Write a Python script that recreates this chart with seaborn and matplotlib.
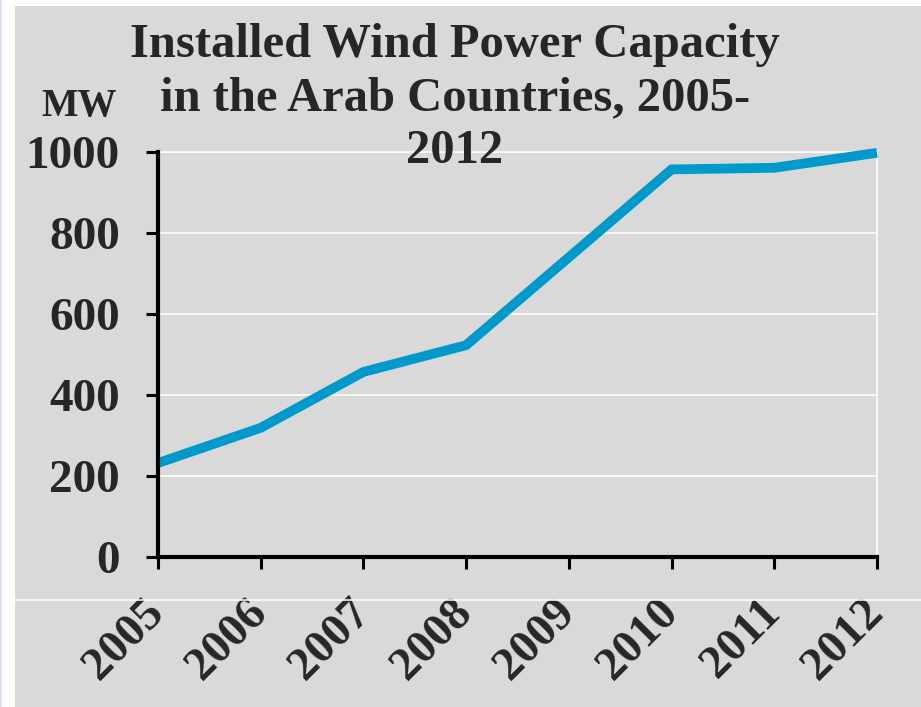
import pandas as pd
import matplotlib.pyplot as plt
import seaborn as sns
from matplotlib.lines import Line2D
from matplotlib.patches import Rectangle

# Installed wind power capacity (MW)
years = [2005, 2006, 2007, 2008, 2009, 2010, 2011, 2012]
capacity_mw = [232, 319, 457, 523, 740, 957, 961, 998]
y_ticks = [0, 200, 400, 600, 800, 1000]

title = "Installed Wind Power Capacity\nin the Arab Countries, 2005-\n2012"
unit_label = "MW"

bg = "#d9d9d9"
blue = "#0099cc"

sns.set_style("white", {"axes.facecolor": bg})
plt.rcParams["font.family"] = ["Liberation Serif", "DejaVu Serif"]
plt.rcParams["font.weight"] = "bold"

df = pd.DataFrame({"Year": years, "MW": capacity_mw})

W, H = 921, 707
fig = plt.figure(figsize=(W / 100, H / 100), dpi=100, facecolor="white")
fig.patches.append(Rectangle((15 / W, 0), 1, 1 - 6 / H, transform=fig.transFigure,
                             facecolor=bg, edgecolor="none", zorder=-2))
fig.patches.append(Rectangle((0, 0), 1.5 / W, 1, transform=fig.transFigure,
                             facecolor="#dbe1ee", edgecolor="none", zorder=-2))

ax = fig.add_axes([158 / W, 1 - 557 / H, (877 - 158) / W, (557 - 152) / H])
ax.set_facecolor(bg)

sns.lineplot(data=df, x="Year", y="MW", ax=ax, color=blue, linewidth=7,
             solid_capstyle="butt", solid_joinstyle="miter", clip_on=False, zorder=3)

ax.set_xlim(years[0], years[-1])
ax.set_ylim(y_ticks[0], y_ticks[-1])
ax.set_xticks(years)
ax.set_yticks(y_ticks)
ax.set_xlabel("")
ax.set_ylabel("")

ax.grid(axis="y", color="white", linewidth=1.1)
ax.grid(axis="x", visible=False)
ax.set_axisbelow(True)

for side in ["left", "bottom"]:
    ax.spines[side].set_color("black")
    ax.spines[side].set_linewidth(3)
    ax.spines[side].set_zorder(4)
for side in ["top", "right"]:
    ax.spines[side].set_color("white")
    ax.spines[side].set_linewidth(1.1)

ax.tick_params(axis="both", direction="out", length=8.5, width=2.2, color="black",
               labelsize=34, left=True, bottom=True)
ax.tick_params(axis="y", pad=19)
ax.tick_params(axis="x", pad=27)

for lab in ax.get_yticklabels():
    lab.set_fontweight("bold")
for lab in ax.get_xticklabels():
    lab.set_fontweight("bold")
    lab.set_rotation(45)
    lab.set_ha("right")
    lab.set_va("center")
    lab.set_rotation_mode("anchor")
    lab.set_bbox(dict(facecolor=bg, edgecolor="none", pad=2))

# thin white rule crossing the label area
fig.add_artist(Line2D([15 / W, 1], [1 - 600 / H, 1 - 600 / H], transform=fig.transFigure,
                      color="white", linewidth=1.1, zorder=1))

fig.text(455 / W, 1 - 23 / H, title, ha="center", va="top", fontsize=35,
         fontweight="bold", linespacing=1.27)
fig.text(117 / W, 1 - 116 / H, unit_label, ha="right", va="baseline", fontsize=28,
         fontweight="bold")

fig.savefig("out.png", dpi=100, facecolor=fig.get_facecolor())
